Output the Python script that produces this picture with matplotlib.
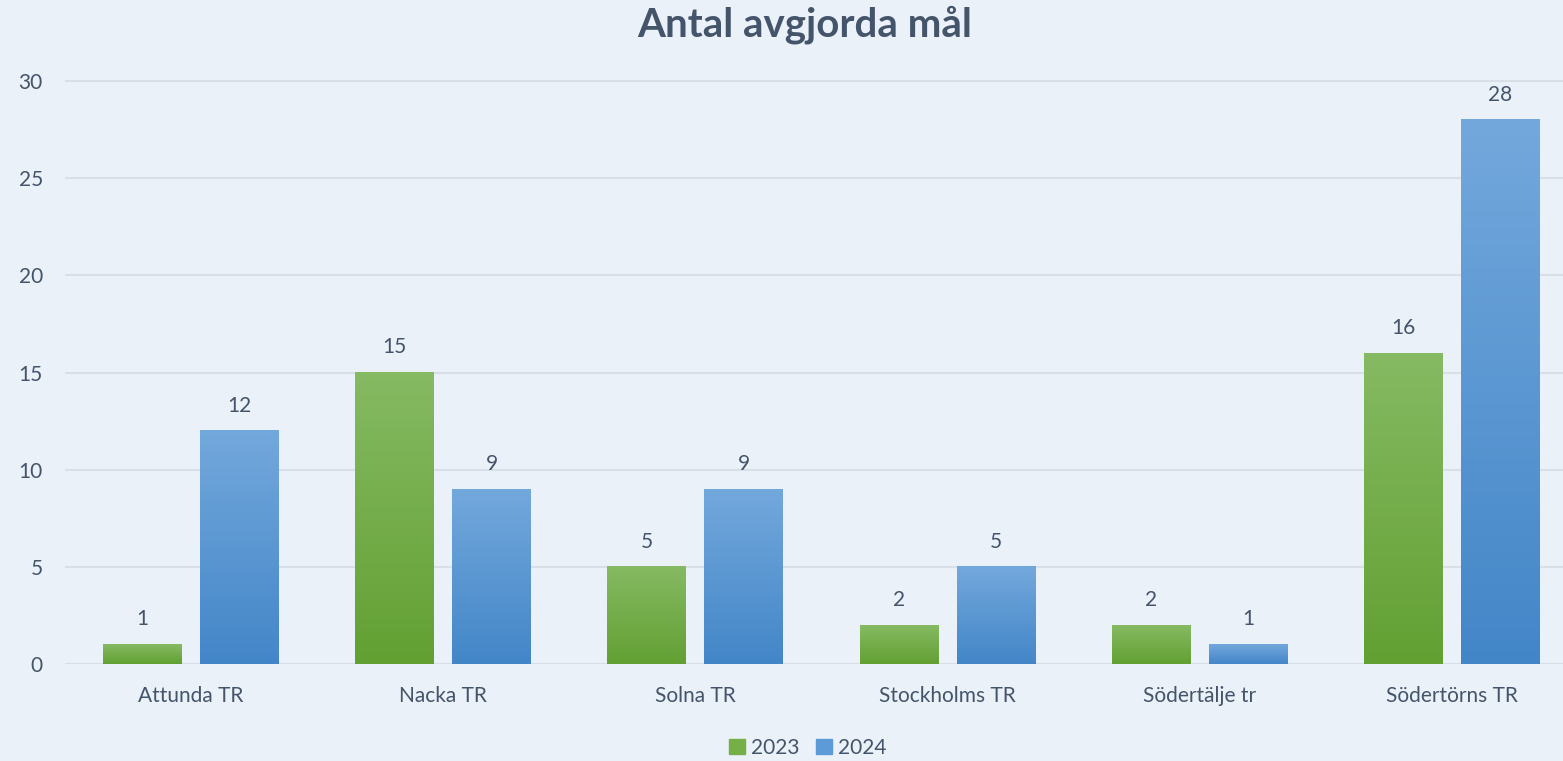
import numpy as np
import matplotlib.pyplot as plt
from matplotlib.colors import LinearSegmentedColormap
from matplotlib.patches import Patch

categories = ['Attunda TR', 'Nacka TR', 'Solna TR', 'Stockholms TR', 'Södertälje tr', 'Södertörns TR']
series_names = ['2023', '2024']
values_2023 = [1, 15, 5, 2, 2, 16]
values_2024 = [12, 9, 9, 5, 1, 28]

bg = '#EAF1F9'
text_col = '#44546A'
green_top, green_bot = '#86BA63', '#62A032'
blue_top, blue_bot = '#73A8DC', '#4386C8'

plt.rcParams['font.family'] = ['Lato', 'DejaVu Sans']

fig = plt.figure(figsize=(15.63, 7.61), dpi=100, facecolor=bg)
ax = fig.add_axes([65 / 1563, 1 - 664 / 761, 1513 / 1563, 583 / 761 * 31 / 30])
ax.set_facecolor(bg)

x = np.arange(len(categories))
w = 0.313
off = 0.1925
b1 = ax.bar(x - off, values_2023, w, color='none', zorder=3)
b2 = ax.bar(x + off, values_2024, w, color='none', zorder=3)


def gradient_fill(bars, top, bot):
    cmap = LinearSegmentedColormap.from_list('g', [bot, top])
    grad = np.linspace(0, 1, 256).reshape(-1, 1)
    for bar in bars:
        x0, y0 = bar.get_x(), bar.get_y()
        ax.imshow(grad, cmap=cmap, aspect='auto', origin='lower',
                  extent=(x0, x0 + bar.get_width(), y0, y0 + bar.get_height()),
                  zorder=3, interpolation='bilinear')
        ax.annotate(f'{bar.get_height():g}', (x0 + bar.get_width() / 2, bar.get_height()),
                    xytext=(0, 11), textcoords='offset points', ha='center', va='bottom',
                    fontsize=15, color=text_col)


gradient_fill(b1, green_top, green_bot)
gradient_fill(b2, blue_top, blue_bot)

ax.set_xlim(-0.5, len(categories) - 0.5)
ax.set_ylim(0, 31)
ax.set_yticks(range(0, 31, 5))
ax.yaxis.grid(True, color='#D9DFE7', linewidth=1.5, zorder=0)
ax.set_axisbelow(True)
for s in ax.spines.values():
    s.set_visible(False)
ax.axhline(0, color='#D9DFE7', linewidth=1.5, zorder=1)
ax.set_xticks(x)
ax.set_xticklabels(categories)
ax.tick_params(axis='both', length=0, labelsize=15, colors=text_col)
ax.tick_params(axis='x', pad=16)
ax.tick_params(axis='y', pad=16)

fig.text(805 / 1563, 1 - 25 / 761, 'Antal avgjorda mål', ha='center', va='center',
         fontsize=29, fontweight='bold', color=text_col)

handles = [Patch(color='#74AF48'), Patch(color='#5D9AD8')]
fig.legend(handles, series_names, loc='center', bbox_to_anchor=(808 / 1563, 1 - 748 / 761),
           ncol=2, frameon=False, fontsize=15, labelcolor=text_col,
           handlelength=0.75, handleheight=0.75, handletextpad=0.3, columnspacing=0.8)

fig.savefig('out.png', dpi=100, facecolor=bg)
